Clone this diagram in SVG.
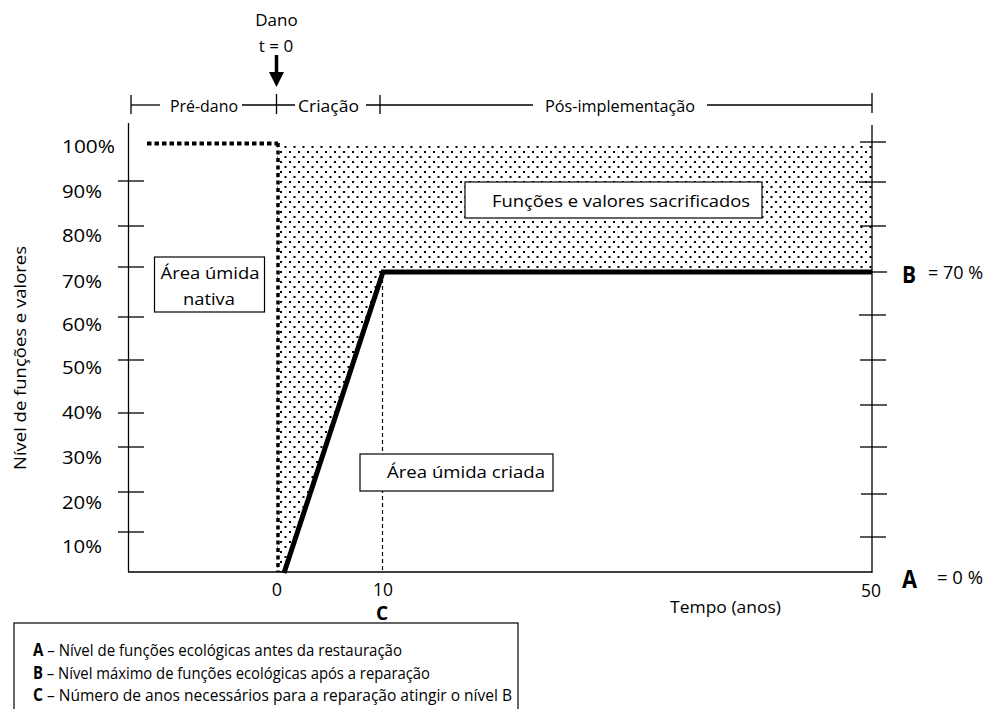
<svg xmlns="http://www.w3.org/2000/svg" width="985" height="709" viewBox="0 0 985 709">
<defs>
<pattern id="dots" width="9" height="10" patternUnits="userSpaceOnUse">
<rect width="9" height="10" fill="#fff"/>
<rect x="1" y="1" width="2" height="2" fill="#000"/>
<rect x="5.5" y="6" width="2" height="2" fill="#000"/>
</pattern>
<style>
text{font-family:"Open Sans","Liberation Sans",sans-serif;fill:#000}
.t17{font-size:17px}
.t18{font-size:18px}
.lbl{font-size:18px}
.big{font-weight:bold}
.ax{stroke:#000;stroke-width:1.3;fill:none}
.tick{stroke:#000;stroke-width:1.3}
.box{fill:#fff;stroke:#000;stroke-width:1.2}
</style>
</defs>
<rect width="985" height="709" fill="#fff"/>

<!-- shaded sacrificed area -->
<polygon points="277,143 872,143 872,272 383,272 284,572 277,572" fill="url(#dots)"/>

<!-- top header: damage arrow -->
<g id="dano">
<text class="t17" x="276.5" y="26" text-anchor="middle">Dano</text>
<text class="t17" x="276" y="52" text-anchor="middle">t = 0</text>
<line x1="276.5" y1="55" x2="276.5" y2="74" stroke="#000" stroke-width="3.5"/>
<polygon points="269,72 284,72 276.5,87" fill="#000"/>
</g>

<!-- phase bar -->
<g id="phases" class="ax">
<line x1="131" y1="105" x2="160" y2="105"/>
<line x1="242" y1="105" x2="295" y2="105"/>
<line x1="366" y1="105" x2="533" y2="105"/>
<line x1="707" y1="105" x2="872" y2="105"/>
<line x1="131" y1="95" x2="131" y2="114"/>
<line x1="276.5" y1="94" x2="276.5" y2="114"/>
<line x1="380" y1="95" x2="380" y2="114"/>
<line x1="872" y1="93" x2="872" y2="113"/>
</g>
<text class="t17" x="204" y="112" text-anchor="middle" textLength="68" lengthAdjust="spacingAndGlyphs">Pré-dano</text>
<text class="t17" x="328.5" y="112" text-anchor="middle" textLength="61" lengthAdjust="spacingAndGlyphs">Criação</text>
<text class="t17" x="620" y="112" text-anchor="middle" textLength="150" lengthAdjust="spacingAndGlyphs">Pós-implementação</text>

<!-- axes -->
<g id="axes">
<line class="ax" x1="128.5" y1="123" x2="128.5" y2="572"/>
<line class="ax" x1="872" y1="125" x2="872" y2="573"/>
<line class="ax" x1="128" y1="572" x2="872" y2="572"/>
<g class="tick">
<line x1="118" y1="181" x2="144" y2="181"/>
<line x1="118" y1="226" x2="144" y2="226"/>
<line x1="118" y1="267" x2="144" y2="267"/>
<line x1="118" y1="317" x2="144" y2="317"/>
<line x1="118" y1="360" x2="144" y2="360"/>
<line x1="118" y1="413" x2="144" y2="413"/>
<line x1="118" y1="447" x2="144" y2="447"/>
<line x1="118" y1="492" x2="144" y2="492"/>
<line x1="118" y1="532" x2="144" y2="532"/>
<line x1="860" y1="142" x2="886" y2="142"/>
<line x1="859" y1="182" x2="886" y2="182"/>
<line x1="860" y1="226" x2="886" y2="226"/>
<line x1="872" y1="272" x2="887" y2="272"/>
<line x1="859" y1="315" x2="886" y2="315"/>
<line x1="860" y1="360" x2="886" y2="360"/>
<line x1="860" y1="405" x2="887" y2="405"/>
<line x1="860" y1="447" x2="887" y2="447"/>
<line x1="861" y1="494" x2="887" y2="494"/>
<line x1="860" y1="537" x2="886" y2="537"/>
</g>
</g>

<!-- y labels -->
<g id="ylabels" class="lbl">
<text x="62" y="153" textLength="53" lengthAdjust="spacingAndGlyphs">100%</text>
<text x="62" y="198" textLength="40" lengthAdjust="spacingAndGlyphs">90%</text>
<text x="62" y="242" textLength="40" lengthAdjust="spacingAndGlyphs">80%</text>
<text x="62" y="288" textLength="40" lengthAdjust="spacingAndGlyphs">70%</text>
<text x="62" y="331" textLength="40" lengthAdjust="spacingAndGlyphs">60%</text>
<text x="62" y="374" textLength="40" lengthAdjust="spacingAndGlyphs">50%</text>
<text x="62" y="419" textLength="40" lengthAdjust="spacingAndGlyphs">40%</text>
<text x="62" y="464" textLength="40" lengthAdjust="spacingAndGlyphs">30%</text>
<text x="62" y="509" textLength="40" lengthAdjust="spacingAndGlyphs">20%</text>
<text x="62" y="553" textLength="40" lengthAdjust="spacingAndGlyphs">10%</text>
</g>
<text class="t17" transform="translate(26,358) rotate(-90)" text-anchor="middle" textLength="224" lengthAdjust="spacingAndGlyphs">Nível de funções e valores</text>

<!-- pre-damage level and damage line -->
<g id="native-level">
<line x1="147" y1="143.5" x2="278" y2="143.5" stroke="#000" stroke-width="4" stroke-dasharray="4.5 3"/>
<line x1="278" y1="143" x2="278" y2="572" stroke="#000" stroke-width="3.5" stroke-dasharray="4 3.5"/>
</g>

<!-- created wetland curve -->
<g id="curve">
<line x1="382.5" y1="272" x2="382.5" y2="572" stroke="#000" stroke-width="1.2" stroke-dasharray="4 3"/>
<polyline points="284,573 383,272 872,272" fill="none" stroke="#000" stroke-width="5" stroke-linejoin="miter"/>
</g>

<!-- boxes -->
<g id="nativa">
<rect class="box" x="154.5" y="257" width="110" height="55"/>
<text class="t17" x="210" y="279" text-anchor="middle" textLength="99" lengthAdjust="spacingAndGlyphs">Área úmida</text>
<text class="t17" x="209" y="305" text-anchor="middle" textLength="52" lengthAdjust="spacingAndGlyphs">nativa</text>
</g>
<g id="sacrificados">
<rect class="box" x="465" y="182" width="297" height="36"/>
<text class="t17" x="492" y="207" textLength="258" lengthAdjust="spacingAndGlyphs">Funções e valores sacrificados</text>
</g>
<g id="criada">
<rect class="box" x="360" y="454" width="193" height="37"/>
<text class="t17" x="387" y="478" textLength="158" lengthAdjust="spacingAndGlyphs">Área úmida criada</text>
</g>

<!-- x labels -->
<g id="xlabels">
<text class="t18" x="277" y="596" text-anchor="middle">0</text>
<text class="t18" x="383" y="596" text-anchor="middle" textLength="20" lengthAdjust="spacingAndGlyphs">10</text>
<text class="t18" x="871" y="597" text-anchor="middle" textLength="20" lengthAdjust="spacingAndGlyphs">50</text>
<text class="big" x="382" y="620" text-anchor="middle" font-size="19">C</text>
<text class="t17" x="670" y="613" textLength="111" lengthAdjust="spacingAndGlyphs">Tempo (anos)</text>
</g>

<!-- A, B markers -->
<g id="markerB">
<text class="big" x="902" y="283" font-size="24" textLength="14" lengthAdjust="spacingAndGlyphs">B</text>
<text class="t18" x="928" y="279" textLength="55" lengthAdjust="spacingAndGlyphs">= 70 %</text>
</g>
<g id="markerA">
<text class="big" x="902" y="588" font-size="25" textLength="15" lengthAdjust="spacingAndGlyphs">A</text>
<text class="t18" x="937" y="584" textLength="46" lengthAdjust="spacingAndGlyphs">= 0 %</text>
</g>

<!-- legend -->
<g id="legend">
<rect class="box" x="14" y="623" width="504" height="100"/>
<text class="t17" x="33" y="656" textLength="369" lengthAdjust="spacingAndGlyphs"><tspan font-weight="bold">A</tspan> – Nível de funções ecológicas antes da restauração</text>
<text class="t17" x="33" y="679" textLength="397" lengthAdjust="spacingAndGlyphs"><tspan font-weight="bold">B</tspan> – Nível máximo de funções ecológicas após a reparação</text>
<text class="t17" x="33" y="701" textLength="479" lengthAdjust="spacingAndGlyphs"><tspan font-weight="bold">C</tspan> – Número de anos necessários para a reparação atingir o nível B</text>
</g>
</svg>
